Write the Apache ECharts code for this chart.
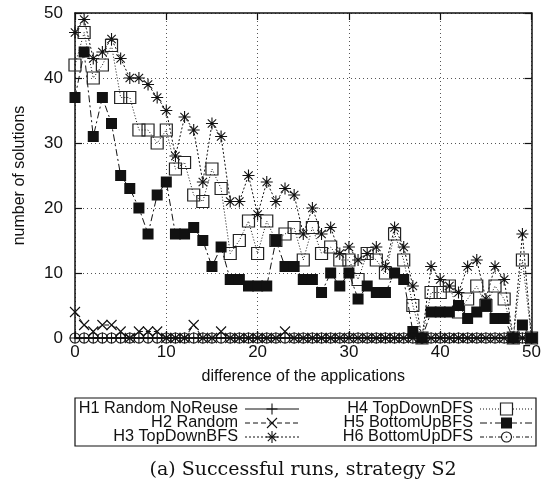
<!DOCTYPE html>
<html>
<head>
<meta charset="utf-8">
<script src="https://cdn.jsdelivr.net/npm/echarts@6/dist/echarts.min.js"></script>
<style>
  html, body { margin: 0; padding: 0; background: #fff; }
  #chart { width: 544px; height: 488px; }
</style>
</head>
<body>
<div id="chart"></div>
<script>
// Difference of the applications (x positions)
const differences = [0,1,2,3,4,5,6,7,8,9,10,11,12,13,14,15,16,17,18,19,20,21,22,23,24,25,
  26,27,28,29,30,31,32,33,34,35,36,37,38,39,40,41,42,43,44,45,46,47,48,49,50];

// Number of solutions per heuristic
const h1RandomNoReuse = [0,0,0,0,0,0,0,0,0,0,0,0,0,0,0,0,0,0,0,0,0,0,0,0,0,0,
  0,0,0,0,0,0,0,0,0,0,0,0,0,0,0,0,0,0,0,0,0,0,0,0,0];
const h2Random = [4,2,1,2,2,1,0,1,1,1,0,0,0,2,0,0,1,0,0,0,0,0,0,1,0,0,
  0,0,0,0,0,0,0,0,0,0,0,0,0,0,0,0,0,0,0,0,0,0,0,0,0];
const h3TopDownBFS = [47,49,43,44,46,43,40,40,39,37,35,28,34,32,24,33,31,21,21,25,19,24,21,23,22,16,
  20,16,17,13,14,12,13,14,11,17,14,8,0,11,9,8,7,11,12,6,11,9,0,16,0];
const h4TopDownDFS = [42,47,40,42,45,37,37,32,32,30,32,26,27,22,21,26,23,13,15,18,13,18,15,16,17,12,
  17,13,14,12,12,9,13,12,10,16,12,5,0,7,7,8,4,6,8,5,8,6,0,12,0];
const h5BottomUpBFS = [37,44,31,37,33,25,23,20,16,22,24,16,16,17,15,11,14,9,9,8,8,8,15,11,11,9,
  9,7,10,8,10,6,8,7,7,10,9,1,0,4,4,4,5,3,4,5,3,3,0,2,0];
const h6BottomUpDFS = [0,0,0,0,0,0,0,0,0,0,0,0,0,0,0,0,0,0,0,0,0,0,0,0,0,0,
  0,0,0,0,0,0,0,0,0,0,0,0,0,0,0,0,0,0,0,0,0,0,0,0,0];

const INK = '#111';
const SANS = '"Liberation Sans", Arial, sans-serif';

// Marker outlines in a 10x10 box, as line segments
const SEG_PLUS = [[5, 0, 5, 10], [0, 5, 10, 5]];
const SEG_CROSS = [[0, 0, 10, 10], [10, 0, 0, 10]];
const SEG_STAR = [[5, 0, 5, 10], [0, 5, 10, 5], [1.5, 1.5, 8.5, 8.5], [8.5, 1.5, 1.5, 8.5]];
function segPath(segs) {
  return 'path://' + segs.map(s => 'M' + s[0] + ' ' + s[1] + ' L' + s[2] + ' ' + s[3]).join(' ');
}
const PATH_CDOT = 'path://M0 5 A5 5 0 1 0 10 5 A5 5 0 1 0 0 5 Z M4.4 5 A0.6 0.6 0 1 0 5.6 5 A0.6 0.6 0 1 0 4.4 5 Z';

const styles = [
  { name: 'H1 Random NoReuse', values: h1RandomNoReuse, segs: SEG_PLUS, size: 11, dash: 'solid' },
  { name: 'H2 Random', values: h2Random, segs: SEG_CROSS, size: 10, dash: [5, 3] },
  { name: 'H3 TopDownBFS', values: h3TopDownBFS, segs: SEG_STAR, size: 12, dash: [2, 2] },
  { name: 'H4 TopDownDFS', values: h4TopDownDFS, rect: 'open', size: 12, dash: [1, 2] },
  { name: 'H5 BottomUpBFS', values: h5BottomUpBFS, rect: 'filled', size: 11, dash: [7, 3, 2, 3] },
  { name: 'H6 BottomUpDFS', values: h6BottomUpDFS, circle: true, size: 10, dash: [4, 2, 1, 2] }
];

function pairs(values) {
  return differences.map((d, i) => [d, values[i]]);
}

const series = styles.map(s => {
  const base = {
    type: 'line',
    name: s.name,
    data: pairs(s.values),
    clip: false,
    animation: false,
    symbolSize: s.size,
    showAllSymbol: true,
    lineStyle: { color: INK, width: 1, type: s.dash },
    emphasis: { disabled: true }
  };
  if (s.rect === 'filled') {
    base.symbol = 'rect';
    base.itemStyle = { color: INK, borderWidth: 0 };
  } else if (s.rect === 'open') {
    base.symbol = 'rect';
    base.itemStyle = { color: 'rgba(0,0,0,0)', borderColor: '#222', borderWidth: 1.2 };
  } else {
    base.symbol = s.circle ? PATH_CDOT : segPath(s.segs);
    base.itemStyle = { color: 'rgba(0,0,0,0)', borderColor: INK, borderWidth: 1.1 };
  }
  return base;
});

function xAxis(position, labels) {
  return {
    type: 'value', position: position, min: 0, max: 50, interval: 10,
    axisLine: { show: true, onZero: false, lineStyle: { color: INK, width: 1.5 } },
    axisTick: { show: true, inside: true, length: 7, lineStyle: { color: INK, width: 1.2 } },
    axisLabel: { show: labels, color: INK, fontFamily: SANS, fontSize: 17, margin: 6 },
    splitLine: { show: labels, lineStyle: { color: '#555', width: 1, type: [1, 3] } },
    name: labels ? 'difference of the applications' : '',
    nameLocation: 'middle', nameGap: 31,
    nameTextStyle: { color: INK, fontFamily: SANS, fontSize: 16 }
  };
}
function yAxis(position, labels) {
  return {
    type: 'value', position: position, min: 0, max: 50, interval: 10,
    axisLine: { show: true, onZero: false, lineStyle: { color: INK, width: 1.5 } },
    axisTick: { show: true, inside: true, length: 7, lineStyle: { color: INK, width: 1.2 } },
    axisLabel: { show: labels, color: INK, fontFamily: SANS, fontSize: 17, margin: 12 },
    splitLine: { show: labels, lineStyle: { color: '#555', width: 1, type: [1, 3] } },
    name: labels ? 'number of solutions' : '',
    nameLocation: 'middle', nameGap: 47, nameRotate: 90,
    nameTextStyle: { color: INK, fontFamily: SANS, fontSize: 16 }
  };
}

// Key box drawn below the plot, two columns of three entries
const keyLeft = 75, keyTop = 398, keyWidth = 461, keyHeight = 48;
const rowY = [409, 423, 437];
const cols = [{ textRight: 238, x1: 245, x2: 299 }, { textRight: 473, x1: 480, x2: 533 }];
const graphics = [{
  type: 'rect', shape: { x: keyLeft, y: keyTop, width: keyWidth, height: keyHeight },
  style: { fill: 'none', stroke: INK, lineWidth: 1.2 }
}];
styles.forEach((s, i) => {
  const c = cols[Math.floor(i / 3)];
  const y = rowY[i % 3];
  const mx = (c.x1 + c.x2) / 2;
  graphics.push({
    type: 'text',
    style: { text: s.name, x: c.textRight, y: y, align: 'right', verticalAlign: 'middle',
             font: '16.3px ' + SANS, fill: INK }
  });
  graphics.push({
    type: 'line', shape: { x1: c.x1, y1: y, x2: c.x2, y2: y },
    style: { stroke: INK, lineWidth: 1, lineDash: s.dash === 'solid' ? null : s.dash }
  });
  const h = s.size;
  if (s.rect) {
    graphics.push({
      type: 'rect', shape: { x: mx - h / 2, y: y - h / 2, width: h, height: h },
      style: s.rect === 'filled' ? { fill: INK } : { fill: '#fff', stroke: '#222', lineWidth: 1.2 }
    });
  } else if (s.circle) {
    graphics.push({ type: 'circle', shape: { cx: mx, cy: y, r: h / 2 },
      style: { fill: '#fff', stroke: INK, lineWidth: 1.1 } });
    graphics.push({ type: 'circle', shape: { cx: mx, cy: y, r: 0.8 }, style: { fill: INK } });
  } else {
    s.segs.forEach(g => {
      graphics.push({
        type: 'line',
        shape: { x1: mx - h / 2 + g[0] * h / 10, y1: y - h / 2 + g[1] * h / 10,
                 x2: mx - h / 2 + g[2] * h / 10, y2: y - h / 2 + g[3] * h / 10 },
        style: { stroke: INK, lineWidth: 1.1 }
      });
    });
  }
});
graphics.push({
  type: 'text',
  style: { text: '(a) Successful runs, strategy S2', x: 303, y: 470, align: 'center',
           verticalAlign: 'middle', font: '19px "DejaVu Serif", serif', fill: INK }
});

const chart = echarts.init(document.getElementById('chart'), null, { renderer: 'canvas' });
chart.setOption({
  animation: false,
  backgroundColor: '#fff',
  grid: { left: 75, right: 8.5, top: 13, bottom: 150, containLabel: false },
  xAxis: [xAxis('bottom', true), xAxis('top', false)],
  yAxis: [yAxis('left', true), yAxis('right', false)],
  series: series,
  graphic: graphics
});
</script>
</body>
</html>
